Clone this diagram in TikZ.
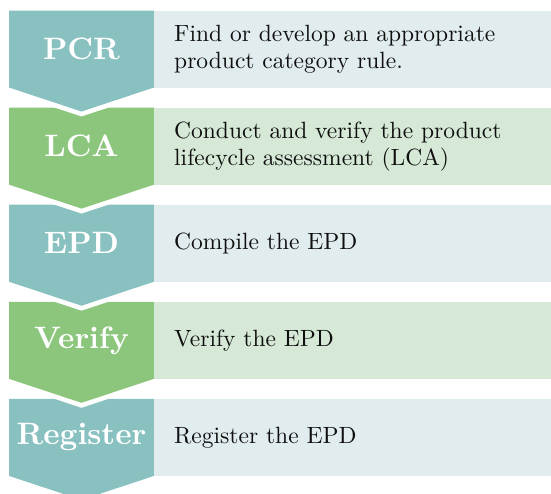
\documentclass[tikz,border=0pt]{standalone}
\usepackage{fontspec}
\setmainfont{lmroman10-regular}[Extension=.otf, BoldFont=lmroman10-bold]
\definecolor{tealc}{RGB}{136,193,192}
\definecolor{greenc}{RGB}{139,198,124}
\definecolor{lteal}{RGB}{225,236,238}
\definecolor{lgreen}{RGB}{213,233,214}
\definecolor{txt}{RGB}{15,15,15}
\newcommand\mychev[2]{%
  \fill[#2] (9,#1) -- (154,#1) -- (154,#1+77) -- (81.5,#1+101) -- (9,#1+77) -- cycle;}
\newcommand\mynotch[1]{%
  \begin{scope}
    \clip (9,#1+60) rectangle (154,#1+115);
    \draw[white,line width=9.4pt,line join=miter] (9,#1+77) -- (81.5,#1+101) -- (154,#1+77);
  \end{scope}}
\begin{document}
\begin{tikzpicture}[x=1pt,y=-1pt,
  desc/.style={anchor=north west, minimum width=397pt, minimum height=77pt,
    text width=357pt, inner xsep=20pt, inner ysep=0pt, align=left,
    font=\fontsize{23.5}{27}\selectfont, text=txt},
  lbl/.style={text=white, font=\fontsize{31}{36}\selectfont\bfseries, inner sep=0pt}]
\useasboundingbox (0,0) rectangle (551,493);
% chevrons, bottom to top
\mychev{398.9}{tealc}
\mynotch{301.8}\mychev{301.8}{greenc}
\mynotch{204.7}\mychev{204.7}{tealc}
\mynotch{107.6}\mychev{107.6}{greenc}
\mynotch{10.5}\mychev{10.5}{tealc}
% labels
\node[lbl] (pcr) at (81.5,49) {PCR};
\node[lbl] (lca) at (81.5,146.1) {LCA};
\node[lbl] (epd) at (81.5,243.2) {EPD};
\node[lbl] (ver) at (81.5,340.3) {Verify};
\node[lbl] (reg) at (81.5,437.4) {Register};
% descriptions
\node[desc, fill=lteal] (d1) at (154,10.5) {Find or develop an appropriate\\product category rule.};
\node[desc, fill=lgreen] (d2) at (154,107.6) {Conduct and verify the product\\lifecycle assessment (LCA)};
\node[desc, fill=lteal] (d3) at (154,204.7) {Compile the EPD};
\node[desc, fill=lgreen] (d4) at (154,301.8) {Verify the EPD};
\node[desc, fill=lteal] (d5) at (154,398.9) {Register the EPD};
\end{tikzpicture}
\end{document}
